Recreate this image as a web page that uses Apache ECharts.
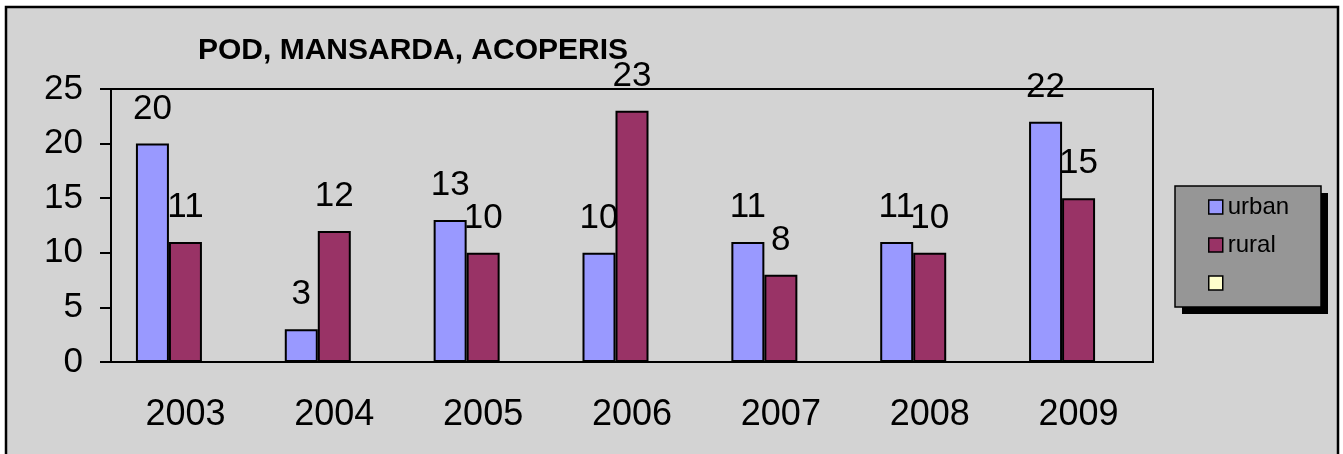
<!DOCTYPE html>
<html>
<head>
<meta charset="utf-8">
<script src="https://cdn.jsdelivr.net/npm/echarts@6/dist/echarts.min.js"></script>
<style>
  html, body { margin: 0; padding: 0; background: #fff; }
  #chart { width: 1343px; height: 454px; }
</style>
</head>
<body>
<div id="chart"></div>
<script>
const years = ['2003', '2004', '2005', '2006', '2007', '2008', '2009']
const urban = [20, 3, 13, 10, 11, 11, 22]
const rural = [11, 12, 10, 23, 8, 10, 15]
const third = [null, null, null, null, null, null, null]
const yTicks = [0, 5, 10, 15, 20, 25]

const font = 'Liberation Sans, Arial, sans-serif'

const chart = echarts.init(document.getElementById('chart'))

function barSeries(name, data, color) {
  return {
    name: name,
    type: 'bar',
    data: data,
    barWidth: 33,
    barGap: '0%',
    itemStyle: {
      color: color,
      borderColor: '#000',
      borderWidth: 2
    },
    label: {
      show: true,
      position: 'top',
      distance: 17,
      color: '#000',
      fontSize: 35,
      fontFamily: font
    }
  }
}

chart.setOption({
  animation: false,
  backgroundColor: '#fff',
  graphic: [{
    type: 'rect',
    shape: { x: 6, y: 7, width: 1332, height: 460 },
    style: { fill: '#d3d3d3', stroke: '#000', lineWidth: 2.5 },
    z: -10
  }, {
    // legend box shadow
    type: 'rect',
    shape: { x: 1182, y: 193, width: 146, height: 121 },
    style: { fill: '#000' },
    z: -5
  }, {
    type: 'rect',
    shape: { x: 1175, y: 186, width: 146, height: 121 },
    style: { fill: '#969696', stroke: '#000', lineWidth: 1.5 },
    z: -4
  }],
  title: {
    text: 'POD, MANSARDA, ACOPERIS',
    left: 193,
    top: 31,
    textStyle: {
      fontFamily: font,
      fontSize: 30,
      fontWeight: 'bold',
      color: '#000'
    }
  },
  legend: {
    orient: 'vertical',
    left: 1175,
    top: 186,
    padding: [9, 30, 11, 33],
    itemWidth: 14,
    itemHeight: 14,
    itemGap: 14,
    itemTextGap: 7,
    icon: 'rect',
    itemStyle: { borderColor: '#000', borderWidth: 1.5 },
    textStyle: { fontFamily: font, fontSize: 24, color: '#000', lineHeight: 24 },
    data: ['urban', 'rural', ' ']
  },
  grid: {
    left: 111,
    right: 190,
    top: 89,
    bottom: 92,
    show: true,
    borderColor: '#000',
    borderWidth: 2,
    backgroundColor: 'transparent'
  },
  xAxis: {
    type: 'category',
    data: years,
    axisLine: { lineStyle: { color: '#000', width: 2 } },
    axisTick: { show: false },
    axisLabel: { color: '#000', fontSize: 36, fontFamily: font, margin: 35 },
    splitLine: { show: false }
  },
  yAxis: {
    type: 'value',
    min: yTicks[0],
    max: yTicks[yTicks.length - 1],
    interval: 5,
    axisLine: { show: true, lineStyle: { color: '#000', width: 2 } },
    axisTick: { show: true, length: 11, lineStyle: { color: '#000', width: 2 } },
    axisLabel: { color: '#000', fontSize: 35, fontFamily: font, margin: 28 },
    splitLine: { show: false }
  },
  series: [
    barSeries('urban', urban, '#9999ff'),
    barSeries('rural', rural, '#993366'),
    barSeries(' ', third, '#ffffcc')
  ]
})
</script>
</body>
</html>
